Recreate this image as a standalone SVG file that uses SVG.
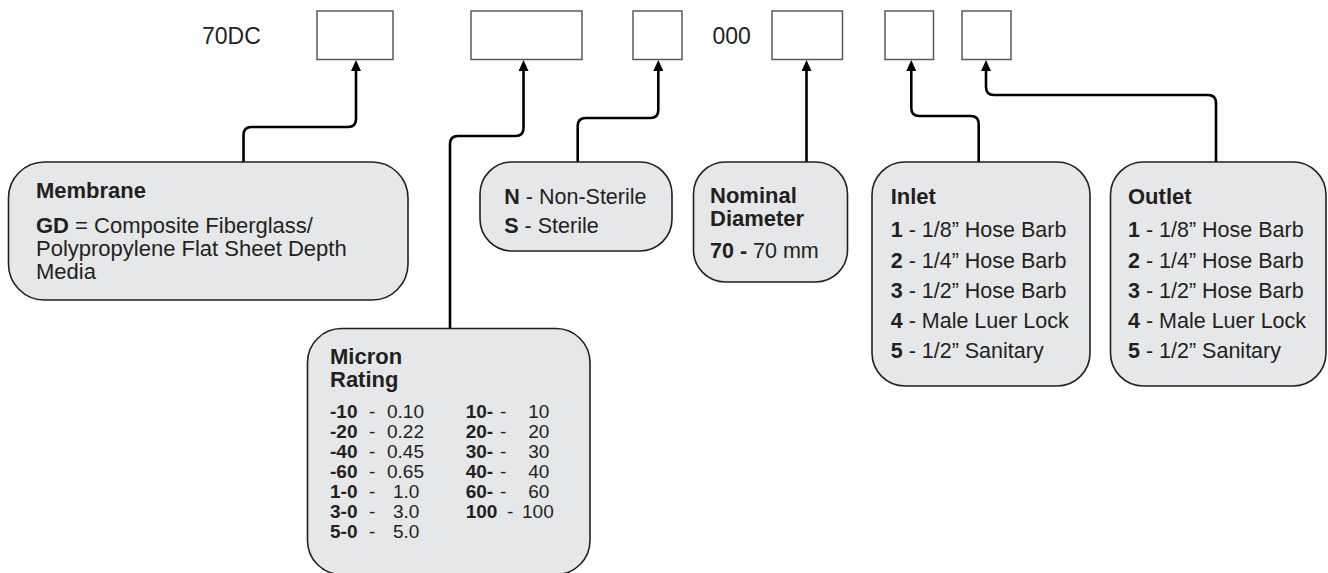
<svg xmlns="http://www.w3.org/2000/svg" width="1328" height="573" viewBox="0 0 1328 573">
<style>
text{font-family:"Liberation Sans",Arial,sans-serif;fill:#231f20;font-size:21.5px}
.b{font-weight:bold}
.slot{fill:#fff;stroke:#58595b;stroke-width:1.5}
.node{fill:#e6e7e8;stroke:#231f20;stroke-width:1.6}
.conn{fill:none;stroke:#000;stroke-width:2.6;marker-end:url(#arr)}
.top{font-size:23px}
.tbl{font-size:19px}
</style>
<defs>
<marker id="arr" markerUnits="userSpaceOnUse" markerWidth="11" markerHeight="10" viewBox="0 -5 11 10" refX="0" refY="0" orient="auto">
<path d="M0,-5 L11,0 L0,5 z" fill="#000"/>
</marker>
</defs>
<g id="code">
<text class="top" x="202" y="44">70DC</text>
<rect class="slot" x="317" y="11" width="76" height="48.5"/>
<rect class="slot" x="471" y="11" width="111" height="48.5"/>
<rect class="slot" x="633" y="11" width="49" height="48.5"/>
<text class="top" x="712.5" y="44">000</text>
<rect class="slot" x="772" y="11" width="70.5" height="48.5"/>
<rect class="slot" x="885" y="11" width="48.5" height="48.5"/>
<rect class="slot" x="962" y="11" width="49" height="48.5"/>
</g>
<g id="connectors">
<path class="conn" d="M243.5,162 V135 Q243.5,127 251.5,127 H348 Q356,127 356,119 V71"/>
<path class="conn" d="M450,328 V144 Q450,136 458,136 H515.5 Q523.5,136 523.5,128 V71"/>
<path class="conn" d="M577.7,162 V126 Q577.7,118 585.7,118 H650.3 Q658.3,118 658.3,110 V71"/>
<path class="conn" d="M806.5,162 V71"/>
<path class="conn" d="M978.7,162 V124 Q978.7,116 970.7,116 H919.3 Q911.3,116 911.3,108 V71"/>
<path class="conn" d="M1216,162 V103 Q1216,95 1208,95 H994 Q986,95 986,87 V71"/>
</g>
<g id="membrane">
<rect class="node" x="8.5" y="162" width="399.5" height="138" rx="36" ry="36"/>
<text class="b" x="36" y="198" style="font-size:22px">Membrane</text>
<text style="font-size:22px"><tspan x="36" y="233"><tspan class="b">GD</tspan> = Composite Fiberglass/</tspan><tspan x="36" y="256">Polypropylene Flat Sheet Depth</tspan><tspan x="36" y="279">Media</tspan></text>
</g>
<g id="micron">
<rect class="node" x="307.5" y="328.5" width="282.5" height="246" rx="34" ry="34"/>
<text class="b" style="font-size:22px"><tspan x="330" y="364">Micron</tspan><tspan x="330" y="387">Rating</tspan></text>
<text class="tbl"><tspan class="b" x="330" y="418">-10</tspan><tspan x="369" y="418">-</tspan><tspan x="387" y="418">0.10</tspan><tspan class="b" x="330" y="438">-20</tspan><tspan x="369" y="438">-</tspan><tspan x="387" y="438">0.22</tspan><tspan class="b" x="330" y="458">-40</tspan><tspan x="369" y="458">-</tspan><tspan x="387" y="458">0.45</tspan><tspan class="b" x="330" y="478">-60</tspan><tspan x="369" y="478">-</tspan><tspan x="387" y="478">0.65</tspan><tspan class="b" x="330" y="498">1-0</tspan><tspan x="369" y="498">-</tspan><tspan x="393" y="498">1.0</tspan><tspan class="b" x="330" y="518">3-0</tspan><tspan x="369" y="518">-</tspan><tspan x="393" y="518">3.0</tspan><tspan class="b" x="330" y="538">5-0</tspan><tspan x="369" y="538">-</tspan><tspan x="393" y="538">5.0</tspan></text>
<text class="tbl"><tspan class="b" x="465.7" y="418">10-</tspan><tspan x="500" y="418">-</tspan><tspan x="528.3" y="418">10</tspan><tspan class="b" x="465.7" y="438">20-</tspan><tspan x="500" y="438">-</tspan><tspan x="528.3" y="438">20</tspan><tspan class="b" x="465.7" y="458">30-</tspan><tspan x="500" y="458">-</tspan><tspan x="528.3" y="458">30</tspan><tspan class="b" x="465.7" y="478">40-</tspan><tspan x="500" y="478">-</tspan><tspan x="528.3" y="478">40</tspan><tspan class="b" x="465.7" y="498">60-</tspan><tspan x="500" y="498">-</tspan><tspan x="528.3" y="498">60</tspan><tspan class="b" x="465.7" y="518">100</tspan><tspan x="507" y="518">-</tspan><tspan x="522" y="518">100</tspan></text>
</g>
<g id="sterility">
<rect class="node" x="480" y="162" width="192" height="89" rx="32" ry="32"/>
<text x="504.3" y="204.3"><tspan class="b">N</tspan> - Non-Sterile</text>
<text x="504.3" y="233.3"><tspan class="b">S</tspan> - Sterile</text>
</g>
<g id="diameter">
<rect class="node" x="693.5" y="162" width="154" height="120" rx="32" ry="32"/>
<text class="b" style="font-size:22px"><tspan x="710" y="203">Nominal</tspan><tspan x="710" y="226">Diameter</tspan></text>
<text x="710" y="258.3"><tspan class="b">70 -</tspan> 70 mm</text>
</g>
<g id="inlet">
<rect class="node" x="872" y="162" width="218" height="224" rx="33" ry="33"/>
<text class="b" x="890.7" y="204" style="font-size:22px">Inlet</text>
<text x="890.7" y="236.7"><tspan class="b">1</tspan> - 1/8” Hose Barb</text>
<text x="890.7" y="267.5"><tspan class="b">2</tspan> - 1/4” Hose Barb</text>
<text x="890.7" y="297.5"><tspan class="b">3</tspan> - 1/2” Hose Barb</text>
<text x="890.7" y="327.5"><tspan class="b">4</tspan> - Male Luer Lock</text>
<text x="890.7" y="358.3"><tspan class="b">5</tspan> - 1/2” Sanitary</text>
</g>
<g id="outlet">
<rect class="node" x="1110.5" y="162" width="215.5" height="224" rx="33" ry="33"/>
<text class="b" x="1128" y="204" style="font-size:22px">Outlet</text>
<text x="1128" y="236.7"><tspan class="b">1</tspan> - 1/8” Hose Barb</text>
<text x="1128" y="267.5"><tspan class="b">2</tspan> - 1/4” Hose Barb</text>
<text x="1128" y="297.5"><tspan class="b">3</tspan> - 1/2” Hose Barb</text>
<text x="1128" y="327.5"><tspan class="b">4</tspan> - Male Luer Lock</text>
<text x="1128" y="358.3"><tspan class="b">5</tspan> - 1/2” Sanitary</text>
</g>
</svg>
